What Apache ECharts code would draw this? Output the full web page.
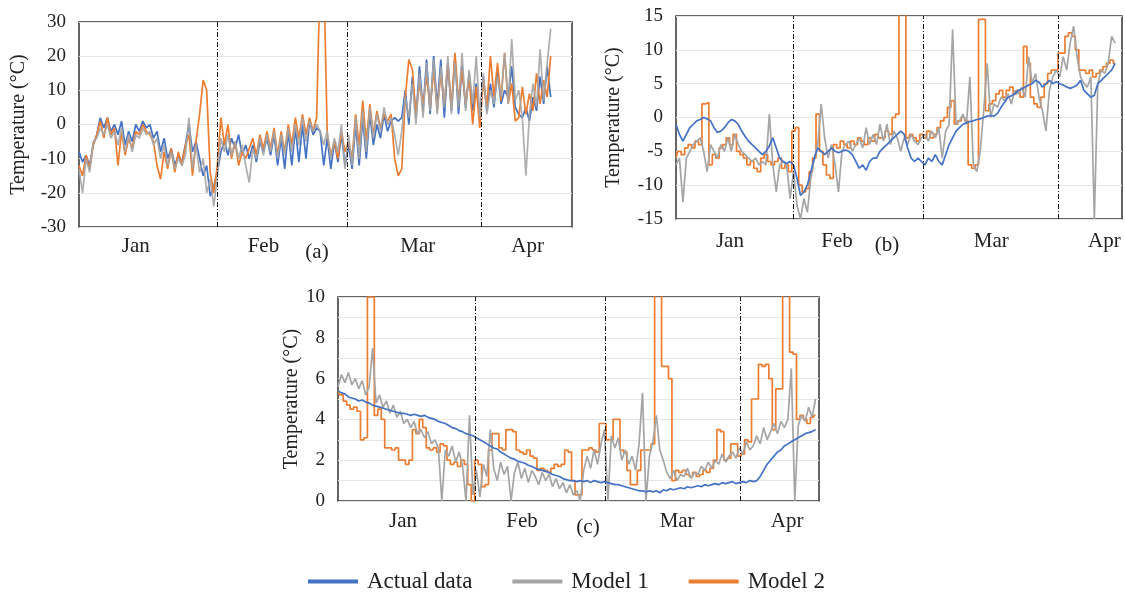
<!DOCTYPE html>
<html>
<head>
<meta charset="utf-8">
<script src="https://cdn.jsdelivr.net/npm/echarts@6/dist/echarts.min.js"></script>
<style>html,body{margin:0;padding:0;background:#fff;}#c{width:1125px;height:592px;}</style>
</head>
<body>
<div id="c"></div>
<script>
const seriesNames = ['Actual data', 'Model 1', 'Model 2'];
const monthNames = ['Jan', 'Feb', 'Mar', 'Apr'];

// Panel (a)
const monthLinesA = [39, 75.5, 113.5];
const monthLabelPosA = [16, 52, 95.5, 126.5];
const actualA = [-8,-11,-9,-12,-6, -3,2,-1,2,-2, 0,-3,1,-6,-2, -5,0,-2,1,-1, 0,-4,-2,-8,-4, -10,-7,-12,-9,-11, -6,0,-8,-5,-10, -15,-12,-21,-18,
 -14,-8,-5,-9,-4, -7,-3,-9,-6,-10, -6,-11,-5,-8,-4, -9,-3,-12,-4,-13, -2,-12,-1,-11,0, -10,1,-3,-1,-2, -12,-4,-13,-5,-11, -3,-12,-6,-13,0,
 -12,2,-10,3,-6, 0,-4,3,-2,1, 2,1,2,10,0, 14,2,17,4,19, 3,20,5,19,2, 18,4,20,3,17, 5,15,4,12,3, 14,4,12,5,16, 6,10,8,17,5, 3,2,5,1,8, 4,14,6,17,8];
const model1A = [-13,-20,-10,-14,-5, -4,-1,-3,0,-4, -2,-6,-1,-8,-3, -8,-3,-4,-1,-3, -2,-6,-4,-10,-6, -12,-8,-13,-10,-12, -9,2,-13,-6,-14, -10,-20,-16,-24,
 -15,-4,-8,-3,-9, -5,-10,-6,-12,-17, -7,-10,-4,-9,-3, -8,-2,-10,-3,-9, -1,-8,0,-6,2, -5,1,-2,0,-2, -6,-2,-10,-4,-8, 0,-13,-3,-12,2,
 -10,4,-8,5,-4, 3,-2,5,0,2, -3,-9,-2,8,2, 12,0,15,2,18, 4,19,3,17,5, 20,3,18,5,21, 4,16,6,20,2, 15,3,10,6,14, 8,21,6,25,7, 10,2,-15,3,12, 5,22,7,18,28];
const model2A = [-12,-15,-9,-13,-6, -3,1,-4,2,-3, -1,-12,-2,-9,-4, -7,-2,-3,0,-2, -3,-5,-12,-16,-8, -13,-7,-14,-8,-12, -6,-3,-15,-5,3, 13,10,-14,-20,
 -12,2,-6,0,-10, -5,-12,-8,-10,-7, -4,-9,-3,-7,-2, -7,-1,-9,-2,-8, 0,-6,2,-4,3, -3,2,-2,2,45, 45,-3,-9,-5,-10, -2,-8,-5,-10,3,
 -6,7,-5,6,-3, 4,-1,3,1,3, -10,-15,-13,8,19, 16,3,12,6,14, 5,16,4,15,6, 18,5,21,7,16, 6,14,0,11,-1, 13,5,20,8,18, 7,21,6,12,1, 2,11,3,9,4, 15,6,13,8,20];

// Panel (b)
const monthLinesB = [33.8, 71.4, 110.5];
const monthLabelPosB = [15.6, 46.6, 91.2, 123.9];
const actualB = [-1,-2.5,-3.5,-2.5,-1.5, -1,-0.5,-0.3,0,-0.2, -0.5,-1.5,-2.2,-2,-1.5, -0.8,-0.3,-0.5,-1,-2, -2.8,-3.5,-4,-4.5,-5,
 -5.5,-5,-4.2,-3,-4.5, -6,-6.5,-6.8,-6.5,-7, -9,-11.5,-11,-10,-8, -6,-4.5,-5,-5.5,-5, -4.5,-5,-5.2,-5,-4.8, -5,-5.5,-6.5,-7.5,-7,
 -7.8,-6.5,-6,-6,-5, -4.5,-4,-3.5,-3,-2.5, -2,-2.5,-4.5,-6,-6.5, -6,-6.5,-7,-6,-6.5, -5.5,-6.5,-7,-5.5,-4, -3,-2,-1.5,-1,-0.8,
 -0.6,-0.5,-0.3,-0.2,0, 0.2,0.3,0.2,0.6,1.5, 2.2,3,3.2,3.5,4, 4.2,4.5,4.8,5,5.5, 5.2,4.5,5,5.5,5, 5.3,5,4.8,4.5,4.3,
 4.5,4.8,5.5,4,3.5, 3,3.3,5,5.5,6, 6.5,7,8];
const model1B = [-7,-6,-12.5,-6,-5, -4,-3.5,-3,-5,-8, -4,-5,-6,-4,-5, -3,-5,-2.5,-4,-5, -5.5,-6,-6.5,-6,-7,
 -6.5,-7,0.5,-7,-11, -7,-6.5,-7,-12,-8, -13,-15,-12,-14,-9, -6,-4,2,-3,-6, -4,-7,-11,-5,-4, -3.5,-5,-4,-3,-4.5,
 -1.5,-4,-2.5,-4,-1, -3.5,-1,-4,-2,-3, -5,-3,-4,-2.5,-3.5, -4,-3,-2.5,-3.5,-2, -3,-1.5,-6,-2,-1, 13,-1,-0.5,0.5,-1,
 6,-7,-8,-5,1, 8,0,2,1.5,3, 2.5,3.5,2,4,3.5, 4.5,3,9,5,6.5, 3,1,-2,4,6, 7,6,9,7,11,
 13.5,9,6,5,4.5, 6,-15,5,7,6.5, 8,12,11];
const model2B = [-6,-5,-5.5,-4.5,-4, -4.5,-3.5,-4,2,2.2, -7,-5.5,-6,-4.5,-4, -3,-4,-2.5,-5,-5.5, -6,-7,-6.5,-7.5,-8,
 -6,-5.5,-6.5,-7,-6.5, -6,-7.5,-7,-8,-2, -1.5,-10,-11,-10.5,-8, -6,0.5,-5,-7,-8.5, -9,-4,-4.5,-3.5,-4, -4.5,-3.5,-4,-3,-3.5,
 -4,-3,-3.5,-2.5,-3, -3,-2,-2.5,0,0.5, 20,20,-3,-2.5,-3, -3.5,-2.5,-3,-2,-3, -2.5,-1.5,-0.5,0,1.5, 2.5,-1,-0.5,0,-0.5,
 -7,-7.5,-7,14.5,14.5, 1,2,2.5,3.5,4, 3,4,4.5,3.5,4, 3,10.5,8,3,2, 1.5,3,5,6.5,7, 7,9.5,9.5,12,12.5,
 12,10,7,7,6.5, 7,6,6.5,7,7.5, 8,8.5,8];

// Panel (c)
const monthLinesC = [39.6, 77.2, 116.2];
const monthLabelPosC = [18.8, 53.2, 98, 129.8];
const actualC = [5.4,5.3,5.25,5.1,5.05,5.0,4.9,4.95,4.85,4.8,
 4.7,4.65,4.6,4.55,4.5,4.45,4.4,4.35,4.3,4.3,
 4.25,4.2,4.25,4.2,4.15,4.2,4.1,4.05,4.0,3.9,
 3.85,3.8,3.7,3.6,3.55,3.45,3.4,3.3,3.25,3.2,
 3.1,3.0,2.9,2.8,2.7,2.6,2.55,2.4,2.3,2.2,
 2.1,2.05,1.95,1.9,1.85,1.75,1.7,1.6,1.55,1.5,
 1.45,1.4,1.3,1.25,1.2,1.1,1.05,1.0,1.0,0.95,
 1.0,0.95,1.0,0.9,1.0,0.95,0.9,0.95,0.9,0.85,
 0.8,0.8,0.75,0.7,0.65,0.6,0.55,0.5,0.5,0.45,
 0.5,0.45,0.5,0.4,0.55,0.5,0.6,0.55,0.6,0.65,
 0.6,0.7,0.65,0.7,0.75,0.7,0.8,0.75,0.8,0.85,
 0.8,0.9,0.85,0.9,0.95,0.85,0.9,0.95,0.9,1.0,
 0.95,1.0,1.2,1.5,1.8,2.0,2.2,2.4,2.5,2.7,
 2.8,2.9,3.0,3.1,3.2,3.3,3.35,3.4,3.5];
const model1C = [5.6,6.2,5.8,6.3,5.7,6.0,5.5,5.9,5.2,5.6,
 7.5,4.8,5.2,4.6,4.9,4.3,4.7,4.1,4.4,3.8,
 4.0,3.6,3.9,3.3,3.5,3.1,3.4,2.8,3.0,2.6,
 0,2.5,2.2,2.7,1.9,2.4,1.7,0,4.2,0.3,
 1.5,0.2,1.8,1.2,3.5,1.6,1.0,1.9,1.3,1.7,
 0,1.4,1.9,1.1,1.6,0.9,1.5,1.2,0.8,1.4,
 1.0,1.3,0.7,1.1,0.6,0.9,0.4,0.8,0.3,0.5,
 0,1.5,2.2,1.6,2.5,1.8,2.8,3.5,0,3.2,
 2.6,3.1,2.0,2.5,1.8,2.2,1.5,2.8,5.3,0,
 2.2,2.9,4.2,2.5,2.0,1.4,1.1,1.5,1.0,1.3,
 1.2,1.6,1.1,1.4,1.3,1.7,1.5,1.9,1.6,2.0,
 1.8,2.3,1.9,2.2,2.4,2.1,2.6,2.3,2.9,2.5,
 2.7,3.2,2.8,3.6,3.0,3.4,3.8,3.3,3.9,3.6,
 4.0,6.5,0,3.7,4.2,3.9,4.6,4.1,5.0];
const model2C = [5.4,5.2,4.9,4.7,4.5,4.6,4.4,3.0,3.1,10,
 10,4.2,4.5,4.0,2.6,2.6,2.5,2.6,2.0,2.0,
 1.8,2.0,3.5,3.3,4.0,3.6,2.6,2.5,2.6,2.4,
 2.8,2.7,2.0,1.8,1.9,1.7,2.0,1.8,0.8,0,
 2.0,1.8,0.7,0.8,2.5,3.3,3.3,2.6,2.5,3.5,
 3.5,3.4,2.5,2.4,2.3,2.5,2.2,2.1,1.5,1.6,
 1.5,1.4,1.6,1.8,1.7,1.8,2.5,2.4,1.0,0.3,
 0.3,2.5,2.5,2.6,2.5,2.4,3.8,3.8,3.0,3.0,
 4.0,4.0,2.5,2.4,1.5,0.8,0.8,1.5,2.5,2.5,
 2.5,2.8,10.5,10.5,6.6,6.6,6.0,1.0,1.5,1.4,
 1.5,1.3,1.2,1.4,1.2,1.3,1.5,1.4,1.6,2.0,
 3.5,3.4,2.0,2.1,2.8,2.8,2.2,2.3,3.0,2.9,
 5.0,5.0,6.7,6.6,6.7,6.0,3.5,5.5,5.5,10.5,
 10.5,7.3,7.2,4.0,4.2,4.0,3.8,4.1,4.2];

const yTicksA = {min: -30, max: 30, interval: 10};
const yTicksB = {min: -15, max: 15, interval: 5};
const yTicksC = {min: 0, max: 10, interval: 2};

const COLORS = {'Actual data': '#4472C4', 'Model 1': '#A5A5A5', 'Model 2': '#ED7D31'};
const FONT = 'Liberation Serif, Times New Roman, serif';

const chart = echarts.init(document.getElementById('c'), null, {renderer: 'canvas'});

const grids = [
  {left: 79, top: 22, width: 493, height: 205},
  {left: 676, top: 16, width: 446, height: 203},
  {left: 338, top: 297, width: 481, height: 204}
].map(g => Object.assign(g, {show: true, borderColor: '#333', borderWidth: 1.5, backgroundColor: 'transparent'}));

function xAxis(gi, max, labelPos, margin) {
  return {
    type: 'value', gridIndex: gi, min: 0, max: max,
    axisLine: {show: false}, axisTick: {show: false}, splitLine: {show: false},
    axisLabel: {
      customValues: labelPos, margin: margin,
      fontFamily: FONT, fontSize: 21, color: '#222',
      formatter: v => monthNames[labelPos.indexOf(v)] || ''
    }
  };
}
function yAxis(gi, t, nameGap, minor) {
  const ax = {
    type: 'value', gridIndex: gi, min: t.min, max: t.max, interval: t.interval,
    name: 'Temperature (°C)', nameLocation: 'middle', nameGap: nameGap, nameRotate: 90,
    nameTextStyle: {fontFamily: FONT, fontSize: 20, color: '#222'},
    axisLine: {show: false}, axisTick: {show: false},
    axisLabel: {fontFamily: FONT, fontSize: 19, color: '#222', margin: 13},
    splitLine: {show: true, lineStyle: {color: '#e6e6e6', width: 1}}
  };
  if (minor) {
    ax.minorTick = {show: false, splitNumber: 2};
    ax.minorSplitLine = {show: true, lineStyle: {color: '#e6e6e6', width: 1}};
  }
  return ax;
}

function lineSeries(name, arr, gi, opts) {
  return Object.assign({
    name: name, type: 'line', xAxisIndex: gi, yAxisIndex: gi,
    data: arr.map((v, i) => [i, v]),
    showSymbol: false, symbol: 'none', animation: false,
    lineStyle: {width: 1.7, color: COLORS[name]},
    itemStyle: {color: COLORS[name]},
    clip: true
  }, opts || {});
}
function monthLines(pos) {
  return {
    silent: true, symbol: ['none', 'none'], animation: false,
    label: {show: false},
    lineStyle: {color: '#111', width: 1, type: [5, 2, 1, 2]},
    data: pos.map(p => ({xAxis: p}))
  };
}

const series = [
  // (a)
  lineSeries('Actual data', actualA, 0, {markLine: monthLines(monthLinesA)}),
  lineSeries('Model 2', model2A, 0),
  lineSeries('Model 1', model1A, 0, {lineStyle: {width: 1.7, color: COLORS['Model 1'], opacity: 0.9}}),
  // (b)
  lineSeries('Model 2', model2B, 1, {step: 'middle'}),
  lineSeries('Model 1', model1B, 1),
  lineSeries('Actual data', actualB, 1, {markLine: monthLines(monthLinesB)}),
  // (c)
  lineSeries('Model 2', model2C, 2, {step: 'middle'}),
  lineSeries('Model 1', model1C, 2),
  lineSeries('Actual data', actualC, 2, {markLine: monthLines(monthLinesC)})
];

chart.setOption({
  backgroundColor: '#fff',
  animation: false,
  title: [
    {text: '(a)', left: 317, top: 242, textAlign: 'center', padding: 0, textStyle: {fontFamily: FONT, fontSize: 21, fontWeight: 'normal', color: '#222'}},
    {text: '(b)', left: 887, top: 235, textAlign: 'center', padding: 0, textStyle: {fontFamily: FONT, fontSize: 21, fontWeight: 'normal', color: '#222'}},
    {text: '(c)', left: 588, top: 517, textAlign: 'center', padding: 0, textStyle: {fontFamily: FONT, fontSize: 21, fontWeight: 'normal', color: '#222'}}
  ],
  legend: {
    data: seriesNames.map(n => ({name: n, icon: 'rect', itemStyle: {color: COLORS[n]}})),
    left: 303, top: 565, itemWidth: 50, itemHeight: 4, itemGap: 40,
    textStyle: {fontFamily: FONT, fontSize: 23, color: '#222', padding: [0, 0, 0, 4]}
  },
  grid: grids,
  xAxis: [
    xAxis(0, 139, monthLabelPosA, 9),
    xAxis(1, 129, monthLabelPosB, 12),
    xAxis(2, 139, monthLabelPosC, 10)
  ],
  yAxis: [
    yAxis(0, yTicksA, 50),
    yAxis(1, yTicksB, 52),
    yAxis(2, yTicksC, 32, true)
  ],
  series: series
});
</script>
</body>
</html>
